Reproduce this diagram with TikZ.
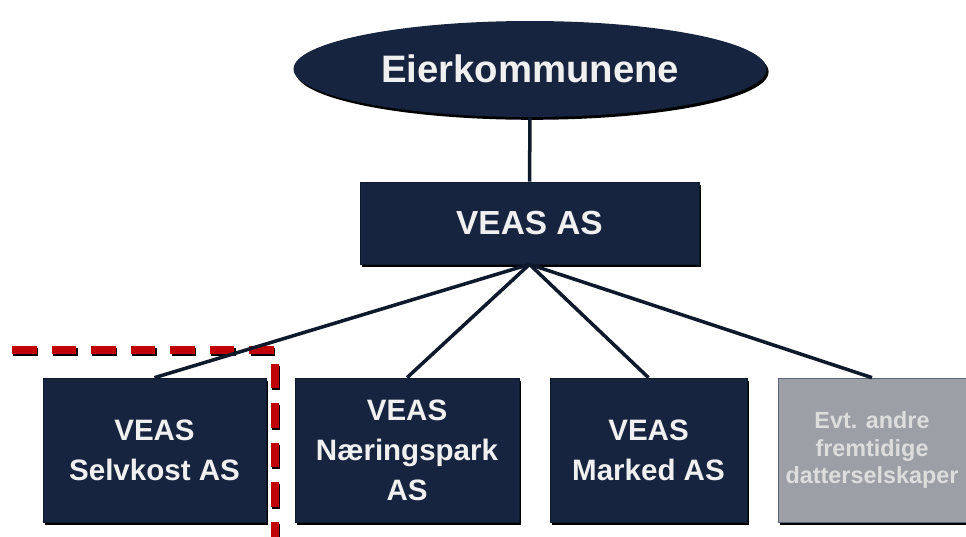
\documentclass[tikz,border=0pt]{standalone}
\usepackage{fontspec}
\setmainfont{Liberation Sans}
\usetikzlibrary{shapes.geometric,shadows,positioning}
\definecolor{veasblue}{HTML}{16243F}
\definecolor{futuregrey}{HTML}{9D9FA7}
\definecolor{lighttext}{HTML}{F0F0F0}
\definecolor{dashred}{HTML}{C00000}

\begin{document}
\begin{tikzpicture}[x=0.02cm, y=-0.02cm,
    unit/.style={rectangle, fill=veasblue, draw=veasblue!70!black, inner sep=0pt,
        text=lighttext, align=center, minimum height=2.88cm,
        font=\bfseries\fontsize{16.8}{22.7}\selectfont,
        drop shadow={shadow xshift=1.2pt, shadow yshift=-1.6pt, opacity=1, fill=black}},
    owner/.style={ellipse, fill=veasblue, inner sep=0pt, text=lighttext,
        minimum width=9.46cm, minimum height=1.92cm,
        font=\bfseries\fontsize{21.8}{24}\selectfont,
        drop shadow={shadow xshift=1.2pt, shadow yshift=-1.6pt, opacity=1, fill=black}},
    link/.style={draw=veasblue!70!black, line width=2pt}]
    \useasboundingbox (0,0) rectangle (966,537);
    % owners and parent company
    \node[owner] (owners) at (530,69) {Eierkommunene};
    \node[unit, minimum width=6.78cm, minimum height=1.64cm,
        font=\bfseries\fontsize{19}{22}\selectfont] (veas) at (529.5,223) {VEAS AS};
    % subsidiaries
    \node[unit, minimum width=4.46cm] (selvkost) at (154.5,450) {VEAS\\Selvkost AS};
    \node[unit, minimum width=4.48cm] (park) at (407,450) {VEAS\\Næringspark\\AS};
    \node[unit, minimum width=3.94cm] (marked) at (648.5,450) {VEAS\\Marked AS};
    \node[unit, minimum width=3.76cm, fill=futuregrey, draw=veasblue!70,
        text=lighttext!92!black, font=\bfseries\fontsize{13.3}{15.6}\selectfont]
        (future) at (872,450) {Evt. andre\\fremtidige\\datterselskaper};
    % red dashed frame
    \coordinate (framestart) at (12,350);
    \coordinate (framecorner) at (275,350);
    \coordinate (frameend) at (275,537);
    \draw[black, line width=4.6pt, dash pattern=on 14pt off 8.5pt, transform canvas={xshift=0.8pt, yshift=-1.2pt}]
        (framestart) -- (framecorner) -- (frameend);
    \draw[dashred, line width=4.4pt, dash pattern=on 14pt off 8.5pt]
        (framestart) -- (framecorner) -- (frameend);
    % connectors
    \draw[link] (owners.south) -- (veas.north);
    \foreach \child in {selvkost,park,marked,future}
        \draw[link] (veas.south) -- (\child.north);
\end{tikzpicture}
\end{document}
